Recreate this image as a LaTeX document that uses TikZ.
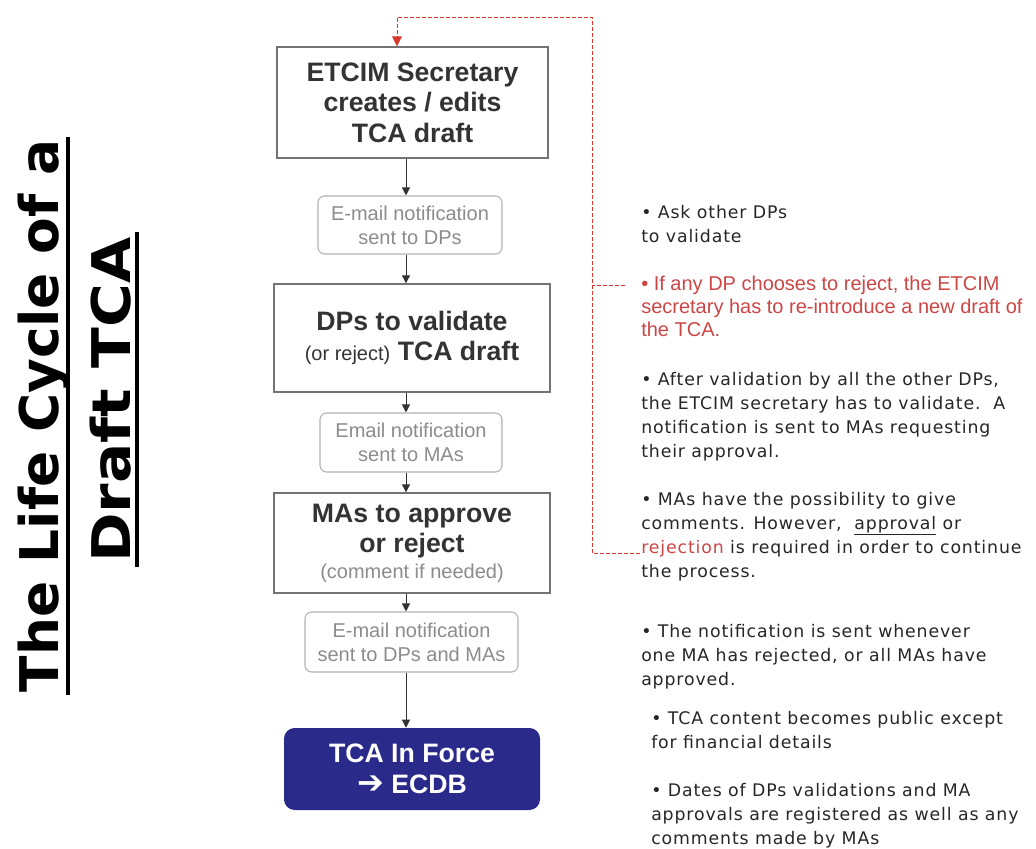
\documentclass[tikz,border=0pt]{standalone}
\usepackage{fontspec}
\setmainfont{Liberation Sans}
\newfontfamily\dejavu{DejaVu Sans}
\newfontfamily\notefont[LetterSpace=5]{DejaVu Sans}
\usetikzlibrary{arrows.meta}
\definecolor{tcablue}{RGB}{42,42,138}
\definecolor{notered}{RGB}{205,70,70}
\definecolor{linered}{RGB}{215,55,45}
\begin{document}
\begin{tikzpicture}[x=0.75pt,y=-0.75pt,
  mainbox/.style={draw=black!55, line width=1pt, fill=white, inner sep=0pt, align=center,
    font=\fontsize{20}{23}\selectfont\bfseries, text=black!80},
  mailbox/.style={draw=black!30, rounded corners=5pt, line width=0.8pt, fill=white, inner sep=0pt,
    align=center, font=\fontsize{15}{18}\selectfont, text=black!45},
  forcebox/.style={fill=tcablue, rounded corners=8pt, inner sep=0pt, align=center, text=white,
    font=\fontsize{20}{23}\selectfont\bfseries},
  flow/.style={-{Triangle[width=6pt,length=6pt]}, line width=0.7pt, draw=black!80},
  feedback/.style={draw=linered, line width=0.6pt, dash pattern=on 3pt off 1.5pt},
  note/.style={anchor=base west, align=left, inner sep=0pt, text=black!85,
    font=\notefont\fontsize{13}{18}\selectfont},
  rednote/.style={anchor=base west, align=left, inner sep=0pt, text=notered,
    font=\fontsize{15}{17.25}\selectfont},
  titletext/.style={rotate=90, anchor=base, inner sep=0pt, text=black,
    font=\dejavu\bfseries\fontsize{40}{40}\selectfont}
]
\useasboundingbox (0,0) rectangle (1036,849);

% title
\node[titletext] (t1) at (58,416) {The Life Cycle of a};
\node[titletext] (t2) at (130,400) {\scalebox{1.12}[1]{Draft TCA}};
\draw[line width=3pt] (68,137) -- (68,695);
\draw[line width=3pt] (137,232) -- (137,567);

% flow boxes
\node[mainbox, minimum width=203.25pt, minimum height=83.25pt] (etcim) at (412.5,102.5)
  {ETCIM Secretary\\creates / edits\\TCA draft};
\node[mailbox, minimum width=138pt, minimum height=43.5pt] (e1) at (410,225)
  {E-mail notification\\sent to DPs};
\node[mainbox, minimum width=207pt, minimum height=81pt] (dp) at (412,338)
  {DPs to validate\\{\fontsize{15}{17}\selectfont\mdseries (or reject)} TCA draft};
\node[mailbox, minimum width=136.5pt, minimum height=44.25pt] (e2) at (411,442.5)
  {Email notification\\sent to MAs};
\node[mainbox, minimum width=207pt, minimum height=75pt] (ma) at (412,543)
  {MAs to approve\\or reject\\[-4pt]{\fontsize{15}{16}\selectfont\mdseries\color{black!45}(comment if needed)}};
\node[mailbox, minimum width=159.75pt, minimum height=45pt] (e3) at (411.5,642)
  {E-mail notification\\sent to DPs and MAs};
\node[forcebox, minimum width=192pt, minimum height=61.5pt] (force) at (412,769)
  {TCA In Force\\{\dejavu\bfseries\fontsize{24}{20}\selectfont ➔} ECDB};

\coordinate (ax) at (406,0);
\draw[flow] (etcim.south -| ax) -- (e1.north -| ax);
\draw[flow] (e1.south -| ax) -- (dp.north -| ax);
\draw[flow] (dp.south -| ax) -- (e2.north -| ax);
\draw[flow] (e2.south -| ax) -- (ma.north -| ax);
\draw[flow] (ma.south -| ax) -- (e3.north -| ax);
\draw[flow] (e3.south -| ax) -- (force.north -| ax);

% feedback loop
\coordinate (fx) at (397,0);
\coordinate (rt) at (592,17);
\coordinate (fbA) at (640,553);
\coordinate (fbB) at (625,285);
\draw[feedback] (fbA) -- (fbA -| rt) -- (rt) -- (rt -| fx) -- ([yshift=6pt]etcim.north -| fx);
\draw[feedback] (fbB) -- (fbB -| rt);
\fill[linered] (etcim.north -| fx) -- ++(-5,-10) -- ++(10,0) -- cycle;

% notes (anchored at the baseline of their last line)
\node[note] (n1) at (641,242) {• Ask other DPs\\to validate};
\node[rednote] (n2) at (641,336) {• If any DP chooses to reject, the ETCIM\\secretary has to re-introduce a new draft of\\the TCA.};
\node[note] (n3) at (641,457) {• After validation by all the other DPs,\\the ETCIM secretary has to validate.\ \ A\\notification is sent to MAs requesting\\their approval.};
\node[note] (n4) at (641,577) {• MAs have the possibility to give\\comments. However,\ \ \underline{approval} or\\{\color{notered}rejection} is required in order to continue\\the process.};
\node[note] (n5) at (641,685) {• The notification is sent whenever\\one MA has rejected, or all MAs have\\approved.};
\node[note] (n6) at (651,748) {• TCA content becomes public except\\for financial details};
\node[note] (n7) at (651,844) {• Dates of DPs validations and MA\\approvals are registered as well as any\\comments made by MAs};
\end{tikzpicture}
\end{document}
